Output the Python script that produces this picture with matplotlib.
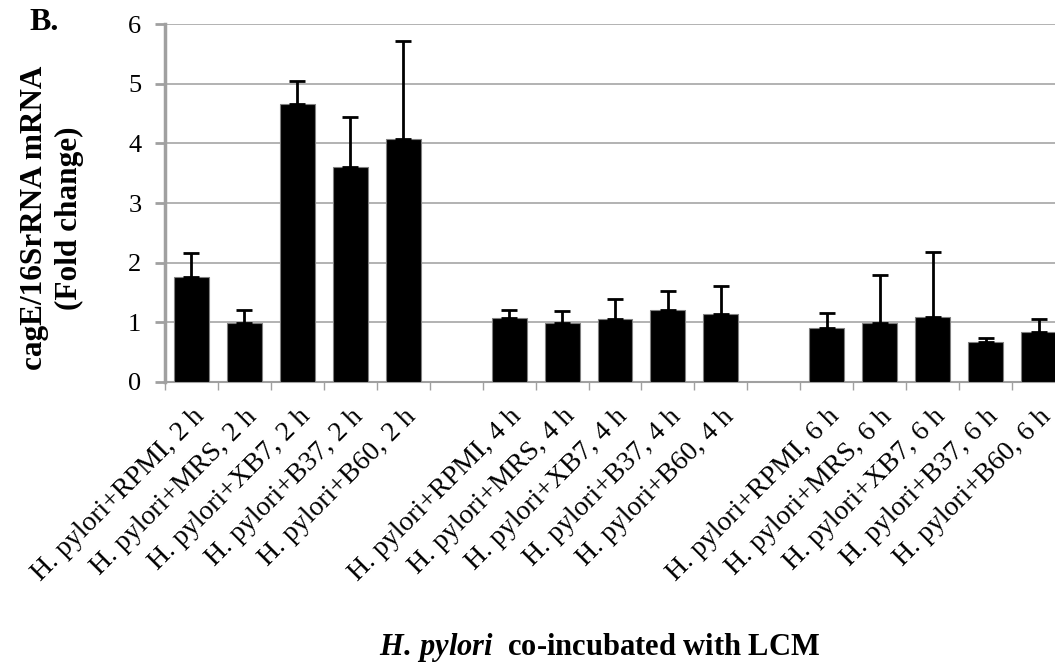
import numpy as np
import matplotlib.pyplot as plt

# --- Data: cagE/16SrRNA mRNA fold change, mean and upper SD ---
treatments = ["RPMI", "MRS", "XB7", "B37", "B60"]
timepoints = ["2 h", "4 h", "6 h"]

mean_2h = [1.76, 0.99, 4.66, 3.60, 4.07]
sd_2h = [0.40, 0.21, 0.39, 0.84, 1.65]

mean_4h = [1.07, 0.99, 1.06, 1.20, 1.14]
sd_4h = [0.13, 0.19, 0.32, 0.33, 0.47]

mean_6h = [0.90, 0.99, 1.09, 0.67, 0.84]
sd_6h = [0.26, 0.80, 1.08, 0.07, 0.22]

# --- Build the slot layout: 5 bars, one empty slot, 5 bars, ... ---
labels, means, errs = [], [], []
for i, (tp, m, s) in enumerate(zip(timepoints, [mean_2h, mean_4h, mean_6h],
                                   [sd_2h, sd_4h, sd_6h])):
    for trt, mv, sv in zip(treatments, m, s):
        labels.append(f"H. pylori+{trt}, {tp}")
        means.append(mv)
        errs.append(sv)
    if i < len(timepoints) - 1:
        labels.append("")
        means.append(np.nan)
        errs.append(np.nan)

x = np.arange(len(labels))
means = np.array(means)
errs = np.array(errs)
has_bar = ~np.isnan(means)

plt.rcParams['font.family'] = ['Liberation Serif', 'DejaVu Serif']
plt.rcParams['mathtext.fontset'] = 'custom'
plt.rcParams['mathtext.it'] = 'Liberation Serif:italic:bold'
plt.rcParams['mathtext.rm'] = 'Liberation Serif:bold'

W, H = 1055, 671
fig = plt.figure(figsize=(W / 100, H / 100), dpi=100)
ax = fig.add_axes([165 / W, 1 - 381.7 / H, 900 / W, 357.4 / H])

ax.bar(x[has_bar], means[has_bar], width=0.66, color='black',
       edgecolor='#808080', linewidth=0.8, zorder=3)
ax.errorbar(x[has_bar], means[has_bar],
            yerr=[np.zeros(has_bar.sum()), errs[has_bar]],
            fmt='none', ecolor='black', elinewidth=2, capsize=6,
            capthick=2, zorder=4)

ax.set_xlim(-0.5, len(labels) - 0.5)
ax.set_ylim(0, 6)
ax.set_yticks(range(0, 7))
ax.yaxis.grid(True, color='#a6a6a6', linewidth=1.2, zorder=0)
ax.set_axisbelow(True)

# category boundary ticks on the x axis, labels centred under the bars
ax.set_xticks(np.arange(-0.5, len(labels) + 0.5, 1), minor=False)
ax.set_xticklabels([])
ax.set_xticks(x, minor=True)
ax.set_xticklabels(labels, minor=True, rotation=45, ha='right',
                   rotation_mode='anchor', fontsize=20)
ax.tick_params(axis='x', which='minor', length=0, pad=16)
ax.tick_params(axis='x', which='major', length=6, width=1, color='#a0a0a0',
               direction='out')
ax.tick_params(axis='y', length=7, width=2, color='#a0a0a0', labelsize=19,
               pad=10)

for side in ('top', 'right'):
    ax.spines[side].set_visible(False)
ax.spines['left'].set_color('#a0a0a0')
ax.spines['left'].set_linewidth(2.5)
ax.spines['bottom'].set_color('#a0a0a0')
ax.spines['bottom'].set_linewidth(1.5)

fig.text(44 / W, 1 - 22 / H, "B.", fontsize=23, fontweight='bold',
         ha='center', va='center')
fig.text(35 / W, 1 - 218 / H, "cagE/16SrRNA mRNA", fontsize=22.5,
         fontweight='bold', rotation=90, ha='center', va='center')
fig.text(69 / W, 1 - 218 / H, "(Fold change)", fontsize=22.5,
         fontweight='bold', rotation=90, ha='center', va='center')

fig.text(600 / W, 1 - 648 / H,
         r"$\mathit{H.\,pylori}$  co-incubated with LCM",
         fontsize=22, fontweight='bold', ha='center', va='center')

fig.savefig("out.png", dpi=100)
